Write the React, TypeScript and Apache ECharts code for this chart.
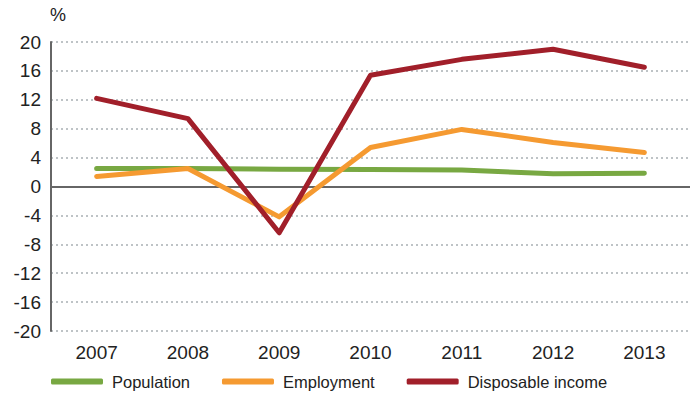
import React, { useEffect, useRef } from "react";
import * as echarts from "echarts";

const years = ["2007", "2008", "2009", "2010", "2011", "2012", "2013"];
const population = [2.5, 2.5, 2.4, 2.35, 2.3, 1.75, 1.85];
const employment = [1.4, 2.5, -4.2, 5.4, 7.9, 6.1, 4.7];
const disposableIncome = [12.2, 9.4, -6.4, 15.4, 17.6, 19.0, 16.5];

const FONT = "'Liberation Sans', Arial, sans-serif";

export default function App() {
  const ref = useRef<HTMLDivElement>(null);
  useEffect(() => {
    if (!ref.current) return;
    const chart = echarts.init(ref.current, undefined, { renderer: "svg" });
    const lineSeries = (name: string, data: number[], color: string) => ({
      name,
      type: "line",
      data,
      symbol: "none",
      lineStyle: { color, width: 5, cap: "round", join: "round" },
      itemStyle: { color },
    });
    chart.setOption({
      animation: false,
      textStyle: { fontFamily: FONT },
      grid: { left: 51, right: 4, top: 42, bottom: 65, containLabel: false },
      graphic: [
        {
          type: "text",
          left: 50,
          top: 6,
          style: { text: "%", fontSize: 18, fontFamily: FONT, fill: "#222" },
        },
      ],
      legend: {
        left: 51,
        top: 373,
        padding: 0,
        itemWidth: 52,
        itemHeight: 6,
        itemGap: 32,
        icon: "roundRect",
        textStyle: { fontSize: 16.5, color: "#222", fontFamily: FONT, padding: [0, 0, 0, 4] },
        data: ["Population", "Employment", "Disposable income"],
      },
      xAxis: {
        type: "category",
        data: years,
        boundaryGap: true,
        position: "bottom",
        axisLine: { show: false, onZero: false },
        axisTick: { show: false },
        axisLabel: { fontSize: 19, color: "#222", margin: 12, fontFamily: FONT },
      },
      yAxis: {
        type: "value",
        min: -20,
        max: 20,
        interval: 4,
        axisLine: { show: true, lineStyle: { color: "#666", width: 2 } },
        axisTick: { show: false },
        axisLabel: { fontSize: 19, color: "#222", margin: 10, fontFamily: FONT },
        splitLine: { show: true, lineStyle: { color: "#a9b0b4", width: 1.5, type: [2, 3] } },
      },
      series: [
        {
          ...lineSeries("Population", population, "#78a842"),
          markLine: {
            silent: true,
            symbol: "none",
            label: { show: false },
            lineStyle: { color: "#666", width: 2, type: "solid" },
            data: [{ yAxis: 0 }],
            z: 1,
          },
        },
        lineSeries("Employment", employment, "#f59a31"),
        lineSeries("Disposable income", disposableIncome, "#a11f2a"),
      ],
    });
    return () => chart.dispose();
  }, []);
  return <div ref={ref} style={{ width: 694, height: 396, position: "absolute", left: 0, top: 0 }} />;
}
